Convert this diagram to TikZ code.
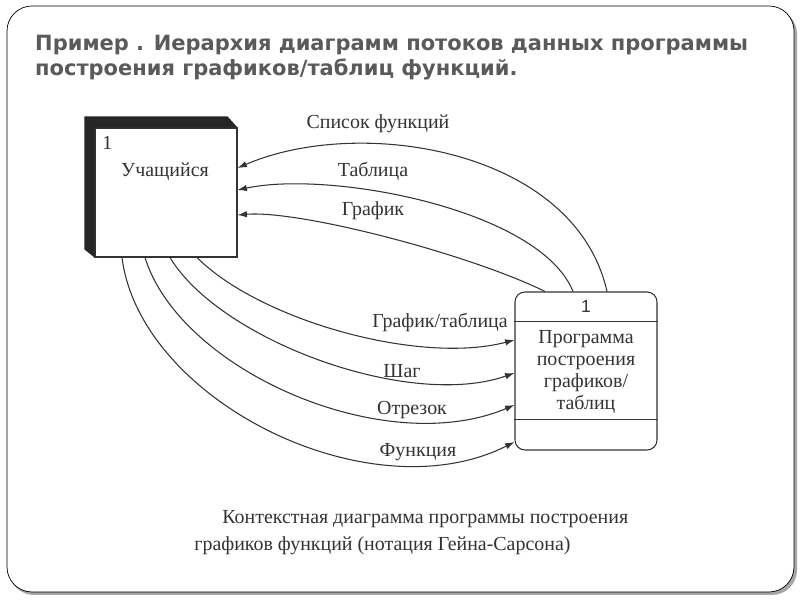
\documentclass[tikz,border=0pt]{standalone}
\usepackage{fontspec}
\setmainfont{Liberation Serif}
\newfontfamily\ttlfont{DejaVu Sans}
\newfontfamily\numfont{Liberation Sans}
\usetikzlibrary{arrows.meta,calc}
\definecolor{ink}{HTML}{333333}
\definecolor{ttlgray}{HTML}{5A5A5A}
\tikzset{
  ent/.style={draw=ink,line width=0.9pt,fill=white,minimum width=4.26cm,minimum height=3.87cm,inner sep=0pt},
  prc/.style={draw=ink,line width=0.9pt,rounded corners=0.3cm,minimum width=4.26cm,minimum height=4.74cm,inner sep=0pt},
  lbl/.style={text=ink,font=\fontsize{17}{18.5}\selectfont,inner sep=1pt},
  flow/.style={draw=ink,line width=0.9pt,-{Latex[length=8pt,width=5.5pt]}},
}
\begin{document}
\begin{tikzpicture}[x=0.03cm,y=0.03cm]
\useasboundingbox (0,0) rectangle (800,600);
% slide frame
\fill[gray!70,rounded corners=0.75cm] (9,5) rectangle (797,591);
\draw[fill=white,line width=0.6pt,rounded corners=0.75cm] (7,8) rectangle (794,594);
\node[anchor=north west,align=left,text=ttlgray,inner sep=0pt,
  font=\ttlfont\bfseries\fontsize{17.9}{21.5}\selectfont] (title) at (35,565)
  {Пример . Иерархия диаграмм потоков данных программы\\построения графиков/таблиц функций.};
% external entity
\node[ent] (ucha) at (166,407.5) {};
\fill[black!85] (ucha.south west) -- ++(-10,8) |- ($(ucha.north east)+(-10,11)$) -- (ucha.north east) -- (ucha.north west) -- cycle;
\node[lbl,anchor=west] (uchanum) at (101,457) {1};
\node[lbl] (uchatxt) at (165,428) {Учащийся};
% process
\node[prc] (prog) at (586,229) {};
\draw[ink,line width=0.9pt] ($(prog.north west)+(0,-30)$) -- ($(prog.north east)+(0,-30)$);
\draw[ink,line width=0.9pt] ($(prog.north west)+(0,-128)$) -- ($(prog.north east)+(0,-128)$);
\node[lbl,font=\numfont\fontsize{15}{16}\selectfont] (prognum) at (586,294) {1};
\node[lbl,align=center,font=\fontsize{17}{19}\selectfont] (progtxt) at (586,228) {Программа\\построения\\графиков/\\таблиц};
% flows to the entity
\draw[flow] ($(prog.north)+(21,0)$) .. controls +(-32,142) and +(123,53) .. ($(ucha.east)+(0,24.5)$);
\draw[flow] ($(prog.north)+(-13,0)$) .. controls +(-33,82) and +(93,20) .. ($(ucha.east)+(0,2.5)$);
\draw[flow] ($(prog.north)+(-41,0)$) .. controls +(-75,37) and +(63,5) .. ($(ucha.east)+(0,-22.5)$);
\node[lbl] (l1) at (378,476) {Список функций};
\node[lbl] (l2) at (373,429) {Таблица};
\node[lbl] (l3) at (373,389) {График};
% flows to the process
\draw[flow] ($(ucha.south)+(31,0)$) .. controls +(63,-63) and +(-95,-25) .. ($(prog.west)+(0,31)$);
\draw[flow] ($(ucha.south)+(4,0)$) .. controls +(50,-83) and +(-105,-37) .. ($(prog.west)+(0,-2)$);
\draw[flow] ($(ucha.south)+(-21,0)$) .. controls +(35,-113) and +(-130,-55) .. ($(prog.west)+(0,-34)$);
\draw[flow] ($(ucha.south)+(-44,0)$) .. controls +(18,-143) and +(-145,-73) .. ($(prog.west)+(0,-71)$);
\node[lbl] (l4) at (440,277) {График/таблица};
\node[lbl] (l5) at (402,229) {Шаг};
\node[lbl] (l6) at (412,190) {Отрезок};
\node[lbl] (l7) at (418,148) {Функция};
% caption
\node[lbl,anchor=north west,align=left,font=\fontsize{17}{23.5}\selectfont] (caption) at (193,91)
  {\hspace*{0.84cm}Контекстная диаграмма программы построения\\графиков функций (нотация Гейна-Сарсона)};
\end{tikzpicture}
\end{document}
